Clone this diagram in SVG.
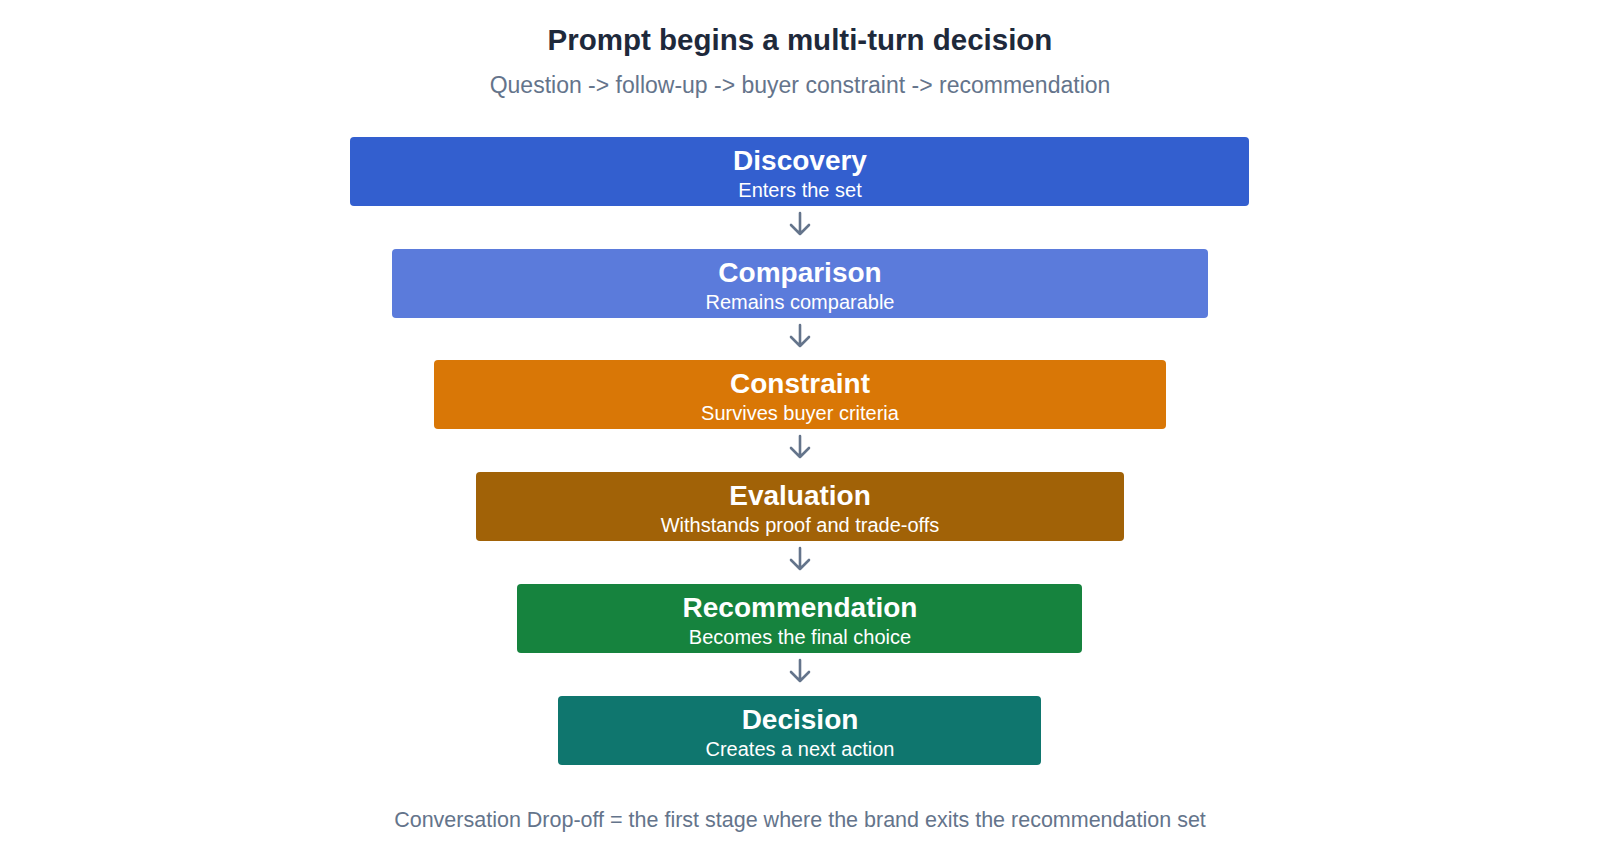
<svg xmlns="http://www.w3.org/2000/svg" width="1600" height="867" viewBox="0 0 1600 867">
<style>
.t{font-family:"Liberation Sans",Arial,sans-serif;text-anchor:middle}
.h{font-size:28px;font-weight:bold;fill:#fff}
.s{font-size:20px;fill:#fff}
.a{stroke:#64748b;stroke-width:2.6;fill:none;stroke-linecap:round;stroke-linejoin:round}
</style>
<rect width="1600" height="867" fill="#fff"/>
<text class="t" x="800" y="50" font-size="29.5" font-weight="bold" fill="#1e293b">Prompt begins a multi-turn decision</text>
<text class="t" x="800" y="93" font-size="23" fill="#64748b">Question -&gt; follow-up -&gt; buyer constraint -&gt; recommendation</text>
<g id="discovery"><rect x="350" y="137" width="899" height="69" rx="4" fill="#335fcf"/><text class="t h" x="800" y="170">Discovery</text><text class="t s" x="800" y="197">Enters the set</text></g>
<g id="comparison"><rect x="392" y="249" width="816" height="69" rx="4" fill="#5b7bdb"/><text class="t h" x="800" y="282">Comparison</text><text class="t s" x="800" y="309">Remains comparable</text></g>
<g id="constraint"><rect x="434" y="360" width="732" height="69" rx="4" fill="#d97706"/><text class="t h" x="800" y="393">Constraint</text><text class="t s" x="800" y="420">Survives buyer criteria</text></g>
<g id="evaluation"><rect x="476" y="472" width="648" height="69" rx="4" fill="#a16207"/><text class="t h" x="800" y="505">Evaluation</text><text class="t s" x="800" y="532">Withstands proof and trade-offs</text></g>
<g id="recommendation"><rect x="517" y="584" width="565" height="69" rx="4" fill="#16833e"/><text class="t h" x="800" y="617">Recommendation</text><text class="t s" x="800" y="644">Becomes the final choice</text></g>
<g id="decision"><rect x="558" y="696" width="483" height="69" rx="4" fill="#0f766e"/><text class="t h" x="800" y="729">Decision</text><text class="t s" x="800" y="756">Creates a next action</text></g>
<g id="connectors">
<path class="a" d="M800 213V234M791 225L800 234L809 225"/>
<path class="a" d="M800 325V346M791 337L800 346L809 337"/>
<path class="a" d="M800 436V457M791 448L800 457L809 448"/>
<path class="a" d="M800 548V569M791 560L800 569L809 560"/>
<path class="a" d="M800 660V681M791 672L800 681L809 672"/>
</g>
<text class="t" x="800" y="827" font-size="21.5" fill="#64748b">Conversation Drop-off = the first stage where the brand exits the recommendation set</text>
</svg>
